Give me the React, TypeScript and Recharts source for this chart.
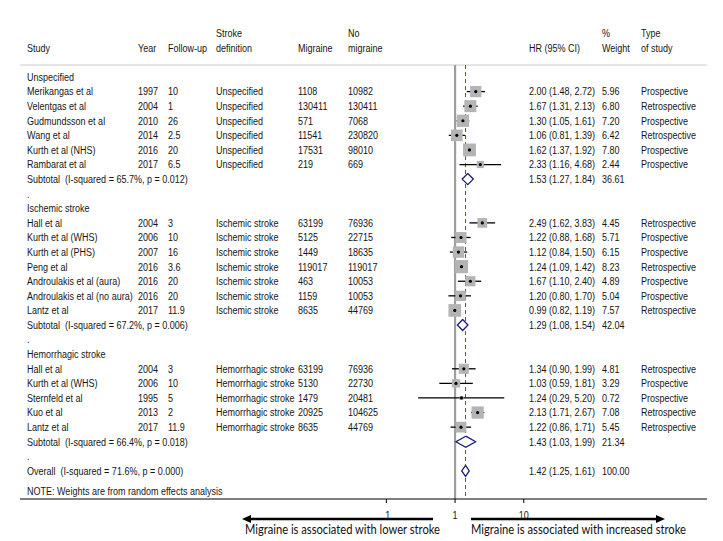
import React from "react";
import {
  ComposedChart,
  Scatter,
  XAxis,
  YAxis,
  ErrorBar,
  ReferenceLine,
  Customized,
} from "recharts";

// ---------- data ----------
const groupNames = ["Unspecified", "Ischemic stroke", "Hemorrhagic stroke"];
const groupSizes = [6, 7, 5];

const studyNames = [
  "Merikangas et al", "Velentgas et al", "Gudmundsson et al", "Wang et al", "Kurth et al (NHS)", "Rambarat et al",
  "Hall et al", "Kurth et al (WHS)", "Kurth et al (PHS)", "Peng et al", "Androulakis et al (aura)", "Androulakis et al (no aura)", "Lantz et al",
  "Hall et al", "Kurth et al (WHS)", "Sternfeld et al", "Kuo et al", "Lantz et al",
];
const years = ["1997", "2004", "2010", "2014", "2016", "2017", "2004", "2006", "2007", "2016", "2016", "2016", "2017", "2004", "2006", "1995", "2013", "2017"];
const followUps = ["10", "1", "26", "2.5", "20", "6.5", "3", "10", "16", "3.6", "20", "20", "11.9", "3", "10", "5", "2", "11.9"];
const definitions = [
  "Unspecified", "Unspecified", "Unspecified", "Unspecified", "Unspecified", "Unspecified",
  "Ischemic stroke", "Ischemic stroke", "Ischemic stroke", "Ischemic stroke", "Ischemic stroke", "Ischemic stroke", "Ischemic stroke",
  "Hemorrhagic stroke", "Hemorrhagic stroke", "Hemorrhagic stroke", "Hemorrhagic stroke", "Hemorrhagic stroke",
];
const migraineN = ["1108", "130411", "571", "11541", "17531", "219", "63199", "5125", "1449", "119017", "463", "1159", "8635", "63199", "5130", "1479", "20925", "8635"];
const noMigraineN = ["10982", "130411", "7068", "230820", "98010", "669", "76936", "22715", "18635", "119017", "10053", "10053", "44769", "76936", "22730", "20481", "104625", "44769"];
const hr = [2.0, 1.67, 1.3, 1.06, 1.62, 2.33, 2.49, 1.22, 1.12, 1.24, 1.67, 1.2, 0.99, 1.34, 1.03, 1.24, 2.13, 1.22];
const ciLow = [1.48, 1.31, 1.05, 0.81, 1.37, 1.16, 1.62, 0.88, 0.84, 1.09, 1.1, 0.8, 0.82, 0.9, 0.59, 0.29, 1.71, 0.86];
const ciHigh = [2.72, 2.13, 1.61, 1.39, 1.92, 4.68, 3.83, 1.68, 1.5, 1.42, 2.4, 1.7, 1.19, 1.99, 1.81, 5.2, 2.67, 1.71];
const weights = [5.96, 6.8, 7.2, 6.42, 7.8, 2.44, 4.45, 5.71, 6.15, 8.23, 4.89, 5.04, 7.57, 4.81, 3.29, 0.72, 7.08, 5.45];
const studyTypes = [
  "Prospective", "Retrospective", "Prospective", "Retrospective", "Prospective", "Prospective",
  "Retrospective", "Prospective", "Prospective", "Retrospective", "Prospective", "Prospective", "Retrospective",
  "Retrospective", "Prospective", "Prospective", "Retrospective", "Retrospective",
];

const subtotalLabels = [
  "Subtotal  (I-squared = 65.7%, p = 0.012)",
  "Subtotal  (I-squared = 67.2%, p = 0.006)",
  "Subtotal  (I-squared = 66.4%, p = 0.018)",
];
const subtotalHR = [1.53, 1.29, 1.43];
const subtotalLow = [1.27, 1.08, 1.03];
const subtotalHigh = [1.84, 1.54, 1.99];
const subtotalWeight = [36.61, 42.04, 21.34];

const overallLabel = "Overall  (I-squared = 71.6%, p = 0.000)";
const overallHR = 1.42;
const overallLow = 1.25;
const overallHigh = 1.61;
const overallWeight = 100.0;

const headerTop = ["", "", "", "Stroke", "", "No", "", "%", "Type"];
const headerBottom = ["Study", "Year", "Follow-up", "definition", "Migraine", "migraine", "HR (95% CI)", "Weight", "of study"];
const noteText = "NOTE: Weights are from random effects analysis";
const xTicks = [0.1, 1, 10];
const leftArrowText = "Migraine is associated with lower stroke";
const rightArrowText = "Migraine is associated with increased stroke";

// ---------- layout ----------
const W = 723;
const H = 541;
const COLS = [27, 138, 168, 216, 298, 348, 529, 602, 641];
const FONT = "'Liberation Sans', Arial, Helvetica, sans-serif";
const NARROW = 0.82;
const TEXT_COLOR = "#151515";
const ROW_TOP = -5.277;
const ROW_BOTTOM = 28.925;
const HEADER_ROW = -0.82;
const X_LO = Math.pow(10, -6.333);
const X_HI = Math.pow(10, 3.667);
const DIAMOND_HALF = 0.38;
const NAVY = "#1c1c78";

const fmt = (v: number) => v.toFixed(2);
const hrText = (h: number, l: number, u: number) => `${fmt(h)} (${fmt(l)}, ${fmt(u)})`;

// ---------- build rows ----------
type TextRow = { x: number; row: number; cells: string[] };
const textRows: TextRow[] = [];
const studyPoints: any[] = [];
const diamonds: { row: number; hr: number; lo: number; hi: number }[] = [];

textRows.push({ x: 1, row: -3, cells: headerTop });
textRows.push({ x: 1, row: -2, cells: headerBottom });

let r = 0;
let s = 0;
groupNames.forEach((g, gi) => {
  textRows.push({ x: 1, row: r, cells: [g] });
  r++;
  for (let k = 0; k < groupSizes[gi]; k++, s++, r++) {
    textRows.push({
      x: 1,
      row: r,
      cells: [
        studyNames[s], years[s], followUps[s], definitions[s], migraineN[s], noMigraineN[s],
        hrText(hr[s], ciLow[s], ciHigh[s]), fmt(weights[s]), studyTypes[s],
      ],
    });
    studyPoints.push({
      x: hr[s],
      row: r,
      w: weights[s],
      err: [hr[s] - ciLow[s], ciHigh[s] - hr[s]],
    });
  }
  textRows.push({
    x: 1,
    row: r,
    cells: [subtotalLabels[gi], "", "", "", "", "", hrText(subtotalHR[gi], subtotalLow[gi], subtotalHigh[gi]), fmt(subtotalWeight[gi]), ""],
  });
  diamonds.push({ row: r, hr: subtotalHR[gi], lo: subtotalLow[gi], hi: subtotalHigh[gi] });
  r++;
  textRows.push({ x: 1, row: r, cells: ["."] });
  r++;
});
textRows.push({
  x: 1,
  row: r,
  cells: [overallLabel, "", "", "", "", "", hrText(overallHR, overallLow, overallHigh), fmt(overallWeight), ""],
});
diamonds.push({ row: r, hr: overallHR, lo: overallLow, hi: overallHigh });
textRows.push({ x: 1, row: r + 1.42, cells: [noteText] });

const diamondData = diamonds.map((d) => [
  { x: d.hr, row: d.row - DIAMOND_HALF },
  { x: d.hi, row: d.row },
  { x: d.hr, row: d.row + DIAMOND_HALF },
  { x: d.lo, row: d.row },
  { x: d.hr, row: d.row - DIAMOND_HALF },
]);

// ---------- shapes ----------
const NarrowText = ({ x, y, children, anchor }: { x: number; y: number; children: any; anchor?: string }) => (
  <g transform={`translate(${x},${y}) scale(${NARROW},1)`}>
    <text
      x={0}
      y={0}
      dy="0.35em"
      fontSize={11}
      fontFamily={FONT}
      fill={TEXT_COLOR}
      textAnchor={anchor || "start"}
      style={{ whiteSpace: "pre" }}
    >
      {children}
    </text>
  </g>
);

const TextRowShape = (props: any) => {
  const { cy, payload } = props;
  return (
    <g>
      {payload.cells.map((c: string, i: number) =>
        c ? (
          <NarrowText key={i} x={COLS[i]} y={cy}>
            {c}
          </NarrowText>
        ) : null
      )}
    </g>
  );
};

const AxisTick = (props: any) => {
  const { x, y, payload } = props;
  const v = payload.value;
  const label = v === 0.1 ? ".1" : String(v);
  return (
    <NarrowText x={x} y={y + 10} anchor="middle">
      {label}
    </NarrowText>
  );
};

const SquareShape = (props: any) => {
  const { cx, cy, payload } = props;
  const side = 4.6 * Math.sqrt(payload.w);
  return <rect x={cx - side / 2} y={cy - side / 2} width={side} height={side} fill="#b4b4b4" />;
};

const DotShape = (props: any) => {
  const { cx, cy } = props;
  return <circle cx={cx} cy={cy} r={1.6} fill="#000" />;
};

const NoShape = () => <g />;

const Arrows = () => (
  <g>
    <line x1={249} y1={519} x2={433} y2={519} stroke="#000" strokeWidth={2.6} />
    <polygon points="242,519 251,515 251,523" fill="#000" />
    <line x1={471} y1={519} x2={658} y2={519} stroke="#000" strokeWidth={2.6} />
    <polygon points="665,519 656,515 656,523" fill="#000" />
    <text x={245} y={534} fontSize={13} fontFamily="Lato, 'Open Sans', sans-serif" fill="#111" textLength={195} lengthAdjust="spacingAndGlyphs">
      {leftArrowText}
    </text>
    <text x={471} y={534} fontSize={13} fontFamily="Lato, 'Open Sans', sans-serif" fill="#111" textLength={215} lengthAdjust="spacingAndGlyphs">
      {rightArrowText}
    </text>
  </g>
);

export default function App() {
  return (
    <div style={{ position: "absolute", left: 0, top: 0, width: W, height: H, background: "#fff" }}>
      <ComposedChart width={W} height={H} margin={{ top: 0, right: 16, bottom: 22, left: 20 }}>
        <XAxis
          type="number"
          dataKey="x"
          scale="log"
          domain={[X_LO, X_HI]}
          ticks={xTicks}
          height={20}
          axisLine={{ stroke: "#000", strokeWidth: 1.2 }}
          tickLine={{ stroke: "#000" }}
          tickSize={4}
          tick={AxisTick}
          interval={0}
        />
        <YAxis type="number" dataKey="row" domain={[ROW_TOP, ROW_BOTTOM]} reversed hide width={0} />
        <ReferenceLine y={HEADER_ROW} stroke="#cccccc" strokeWidth={1} />
        <ReferenceLine
          segment={[
            { x: 1, y: HEADER_ROW },
            { x: 1, y: ROW_BOTTOM },
          ]}
          stroke="#9e9e9e"
          strokeWidth={2.2}
        />
        <ReferenceLine
          segment={[
            { x: overallHR, y: HEADER_ROW },
            { x: overallHR, y: ROW_BOTTOM },
          ]}
          stroke="#a0303a"
          strokeWidth={1}
          strokeDasharray="4 3"
        />
        <Scatter data={studyPoints} shape={SquareShape} isAnimationActive={false} />
        <Scatter data={studyPoints} shape={DotShape} isAnimationActive={false}>
          <ErrorBar dataKey="err" direction="x" width={0} stroke="#000" strokeWidth={1.3} />
        </Scatter>
        {diamondData.map((d, i) => (
          <Scatter
            key={i}
            data={d}
            shape={NoShape}
            line={{ stroke: NAVY, strokeWidth: 1.3, fill: "#ffffff" }}
            lineType="joint"
            isAnimationActive={false}
          />
        ))}
        <Scatter data={textRows} shape={TextRowShape} isAnimationActive={false} />
        <Customized component={Arrows} />
      </ComposedChart>
    </div>
  );
}
